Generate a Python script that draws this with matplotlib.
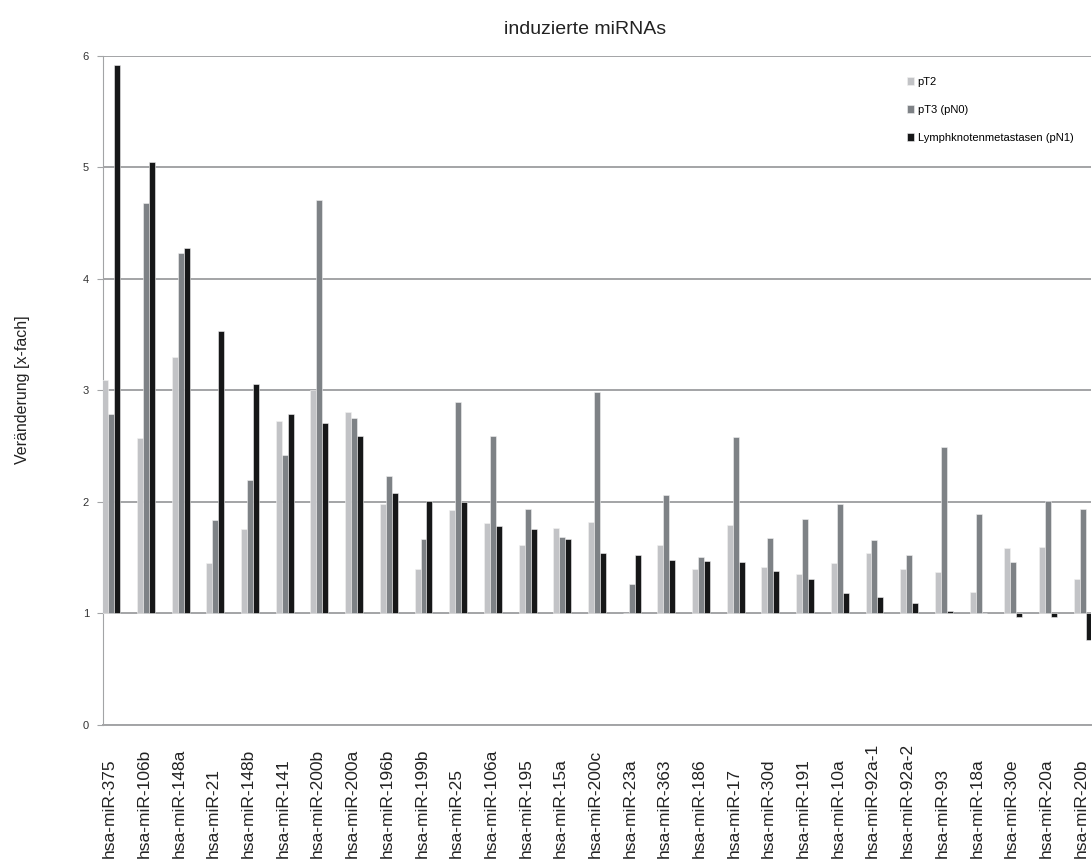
import numpy as np
import matplotlib
matplotlib.use("Agg")
import matplotlib.pyplot as plt
from matplotlib.transforms import blended_transform_factory

plt.rcParams['font.family'] = ['Liberation Sans', 'DejaVu Sans']

# miRNA names and fold changes per group
mirnas = ['hsa-miR-375', 'hsa-miR-106b', 'hsa-miR-148a', 'hsa-miR-21',
          'hsa-miR-148b', 'hsa-miR-141', 'hsa-miR-200b', 'hsa-miR-200a',
          'hsa-miR-196b', 'hsa-miR-199b', 'hsa-miR-25', 'hsa-miR-106a',
          'hsa-miR-195', 'hsa-miR-15a', 'hsa-miR-200c', 'hsa-miR-23a',
          'hsa-miR-363', 'hsa-miR-186', 'hsa-miR-17', 'hsa-miR-30d',
          'hsa-miR-191', 'hsa-miR-10a', 'hsa-miR-92a-1', 'hsa-miR-92a-2',
          'hsa-miR-93', 'hsa-miR-18a', 'hsa-miR-30e', 'hsa-miR-20a',
          'hsa-miR-20b']
pT2 = [3.09, 2.57, 3.30, 1.45, 1.76, 2.73, 3.00, 2.81, 1.98, 1.40,
       1.93, 1.81, 1.61, 1.77, 1.82, 1.00, 1.61, 1.40, 1.79, 1.42,
       1.35, 1.45, 1.54, 1.40, 1.37, 1.19, 1.59, 1.60, 1.31]
pT3 = [2.79, 4.68, 4.23, 1.84, 2.20, 2.42, 4.71, 2.75, 2.23, 1.67,
       2.90, 2.59, 1.94, 1.69, 2.99, 1.26, 2.06, 1.51, 2.58, 1.68,
       1.85, 1.98, 1.66, 1.52, 2.49, 1.89, 1.46, 2.01, 1.94]
pN1 = [5.92, 5.05, 4.28, 3.53, 3.06, 2.79, 2.71, 2.59, 2.08, 2.01,
       2.00, 1.78, 1.76, 1.67, 1.54, 1.52, 1.48, 1.47, 1.46, 1.38,
       1.31, 1.18, 1.15, 1.09, 1.02, 1.00, 0.97, 0.97, 0.76]

series = [('pT2', pT2, '#c2c3c6'),
          ('pT3 (pN0)', pT3, '#7e8286'),
          ('Lymphknotenmetastasen (pN1)', pN1, '#161718')]

fig = plt.figure(figsize=(10.92, 8.61), dpi=100)
ax = fig.add_axes([0.0943, 0.158, 0.9047, 0.777])

x = np.arange(len(mirnas))
w = 0.172
base = 1.0
for k, (name, vals, col) in enumerate(series):
    vals = np.array(vals)
    ax.bar(x + (k - 1) * w, vals - base, width=w, bottom=base, color=col,
           edgecolor='#f2f2f2', linewidth=0.4, label=name, zorder=3)

# gridlines and axes styling
ax.set_ylim(0, 6)
ax.set_yticks(range(7))
ax.set_xlim(-0.24, len(mirnas) - 1 + 0.24)
ax.yaxis.grid(True, color='#a3a4a6', linewidth=1.4, zorder=1)
ax.set_axisbelow(True)
for s in ['top', 'right']:
    ax.spines[s].set_visible(False)
ax.spines['left'].set_color('#a3a4a6')
ax.spines['bottom'].set_color('#a3a4a6')
ax.spines['bottom'].set_linewidth(1.4)
ax.tick_params(axis='y', length=4, color='#a3a4a6', labelsize=8,
               labelcolor='#333333', pad=6)

# category names, bottom-aligned along the lower edge
ax.set_xticks(x)
ax.set_xticklabels([])
ax.tick_params(axis='x', length=0)
trans = blended_transform_factory(ax.transData, fig.transFigure)
for xi, name in zip(x, mirnas):
    ax.text(xi - 0.05, 0.004, name, transform=trans, rotation=90,
            ha='center', va='bottom', fontsize=12.5, color='#222222')

fig.text(0.536, 0.966, 'induzierte miRNAs', ha='center', va='center',
         fontsize=14, color='#222222')
fig.text(0.021, 0.547, 'Veränderung [x-fach]', rotation=90, ha='center',
         va='center', fontsize=11.5, color='#222222')

ax.legend(loc='upper left', bbox_to_anchor=(0.821, 0.922),
          bbox_transform=fig.transFigure, frameon=False, fontsize=8,
          handlelength=0.7, handleheight=0.7, handletextpad=0.3,
          labelspacing=1.6)

fig.savefig('out.png', dpi=100)
